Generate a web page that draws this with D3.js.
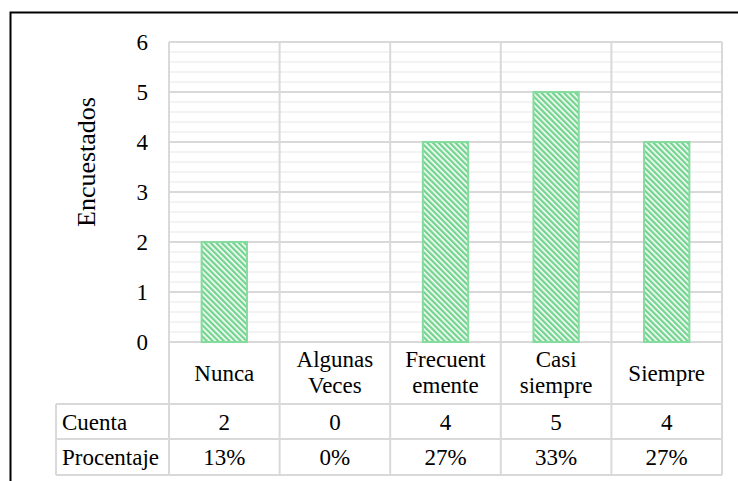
<!DOCTYPE html>
<html>
<head>
<meta charset="utf-8">
<script src="https://cdn.jsdelivr.net/npm/d3@7"></script>
<style>
  html, body { margin: 0; padding: 0; background: #fff; }
  svg { display: block; }
  svg text { font-family: "Liberation Serif", Tinos, "Times New Roman", Times, "DejaVu Serif", serif; fill: #000; }
</style>
</head>
<body>
<div id="chart"></div>
<script>
// Survey results: number of respondents per answer
const categories = ["Nunca", "Algunas Veces", "Frecuentemente", "Casi siempre", "Siempre"];
const categoryLines = [["Nunca"], ["Algunas", "Veces"], ["Frecuent", "emente"], ["Casi", "siempre"], ["Siempre"]];
const counts = [2, 0, 4, 5, 4];
const percentLabels = ["13%", "0%", "27%", "33%", "27%"];
const yTicks = [0, 1, 2, 3, 4, 5, 6];
const rowLabels = ["Cuenta", "Procentaje"];

const W = 738, H = 481;
const plot = { left: 169, right: 722, top: 42, bottom: 342 };
const table = { left: 56, headerBottom: 404, row1Bottom: 439, row2Bottom: 475 };
const gridMajor = "#d9d9d9", gridMinor = "#efefef", barGreen = "#74d48f", barEdge = "#86dc9e";
const fontSize = 23;
const serif = '"Liberation Serif", Tinos, "Times New Roman", Times, "DejaVu Serif", serif';

const svg = d3.select("#chart").append("svg")
  .attr("width", W).attr("height", H)
  .attr("font-family", serif);

// striped fill for the bars
const defs = svg.append("defs");
const pat = defs.append("pattern")
  .attr("id", "stripes")
  .attr("patternUnits", "userSpaceOnUse")
  .attr("width", 4).attr("height", 4)
  .attr("patternTransform", "rotate(-45)");
pat.append("rect").attr("width", 4).attr("height", 4).attr("fill", "#fff");
pat.append("rect").attr("width", 2.4).attr("height", 4).attr("fill", barGreen);

const x = d3.scaleBand().domain(categories).range([plot.left, plot.right]).padding(0);
const y = d3.scaleLinear().domain([0, 6]).range([plot.bottom, plot.top]);

// minor gridlines
const minorTicks = d3.range(0, 6.0001, 0.2).filter(v => Math.abs(v - Math.round(v)) > 1e-6);
svg.append("g").selectAll("line").data(minorTicks).join("line")
  .attr("x1", plot.left).attr("x2", plot.right)
  .attr("y1", d => y(d)).attr("y2", d => y(d))
  .attr("stroke", gridMinor).attr("stroke-width", 1.5);

// major gridlines
svg.append("g").selectAll("line").data(yTicks).join("line")
  .attr("x1", plot.left).attr("x2", plot.right)
  .attr("y1", d => y(d)).attr("y2", d => y(d))
  .attr("stroke", gridMajor).attr("stroke-width", 2);

// table horizontal rules
[table.headerBottom, table.row1Bottom, table.row2Bottom].forEach(yy => {
  svg.append("line")
    .attr("x1", table.left).attr("x2", plot.right)
    .attr("y1", yy).attr("y2", yy)
    .attr("stroke", gridMajor).attr("stroke-width", 2);
});

// vertical rules: category boundaries run through the plot and the table
const bounds = categories.map(c => x(c)).concat([plot.right]);
svg.append("g").selectAll("line").data(bounds).join("line")
  .attr("x1", d => d).attr("x2", d => d)
  .attr("y1", plot.top).attr("y2", table.row2Bottom)
  .attr("stroke", gridMajor).attr("stroke-width", 2);
svg.append("line")
  .attr("x1", table.left).attr("x2", table.left)
  .attr("y1", table.headerBottom).attr("y2", table.row2Bottom)
  .attr("stroke", gridMajor).attr("stroke-width", 2);

// bars (zero counts draw nothing)
const barData = categories.map((c, i) => ({ cat: c, value: counts[i] })).filter(d => d.value > 0);
const barW = x.bandwidth() * 0.41;
svg.append("g").selectAll("rect").data(barData).join("rect")
  .attr("x", d => x(d.cat) + (x.bandwidth() - barW) / 2)
  .attr("width", barW)
  .attr("y", d => y(d.value))
  .attr("height", d => y(0) - y(d.value))
  .attr("fill", "url(#stripes)")
  .attr("stroke", barEdge).attr("stroke-width", 2);

// y axis labels
const yAxis = d3.axisLeft(y).tickValues(yTicks).tickSize(0).tickPadding(21).tickFormat(d3.format("d"));
const ga = svg.append("g").attr("transform", `translate(${plot.left},0)`).call(yAxis)
  .attr("font-family", serif).attr("font-size", fontSize);
ga.select(".domain").remove();
ga.selectAll("text").attr("fill", "#000");

// y axis title
svg.append("text")
  .attr("transform", "translate(95,162) rotate(-90)")
  .attr("text-anchor", "middle")
  .attr("font-size", 26)
  .text("Encuestados");

// category header row
const cx = c => x(c) + x.bandwidth() / 2;
categoryLines.forEach((lines, i) => {
  const t = svg.append("text")
    .attr("text-anchor", "middle")
    .attr("font-size", fontSize);
  const base = lines.length === 1 ? 381 : 367;
  lines.forEach((ln, j) => {
    t.append("tspan").attr("x", cx(categories[i])).attr("y", base + j * 26).text(ln);
  });
});

// data rows
const rows = [counts.map(String), percentLabels];
const rowBase = [430, 465];
rows.forEach((vals, r) => {
  svg.append("text")
    .attr("x", 62).attr("y", rowBase[r])
    .attr("font-size", fontSize)
    .text(rowLabels[r]);
  vals.forEach((v, i) => {
    svg.append("text")
      .attr("x", cx(categories[i])).attr("y", rowBase[r])
      .attr("text-anchor", "middle")
      .attr("font-size", fontSize)
      .text(v);
  });
});

// outer frame
svg.append("path")
  .attr("d", `M10.5,${H + 2} V12.5 H${W + 2}`)
  .attr("fill", "none").attr("stroke", "#000").attr("stroke-width", 2);
</script>
</body>
</html>
